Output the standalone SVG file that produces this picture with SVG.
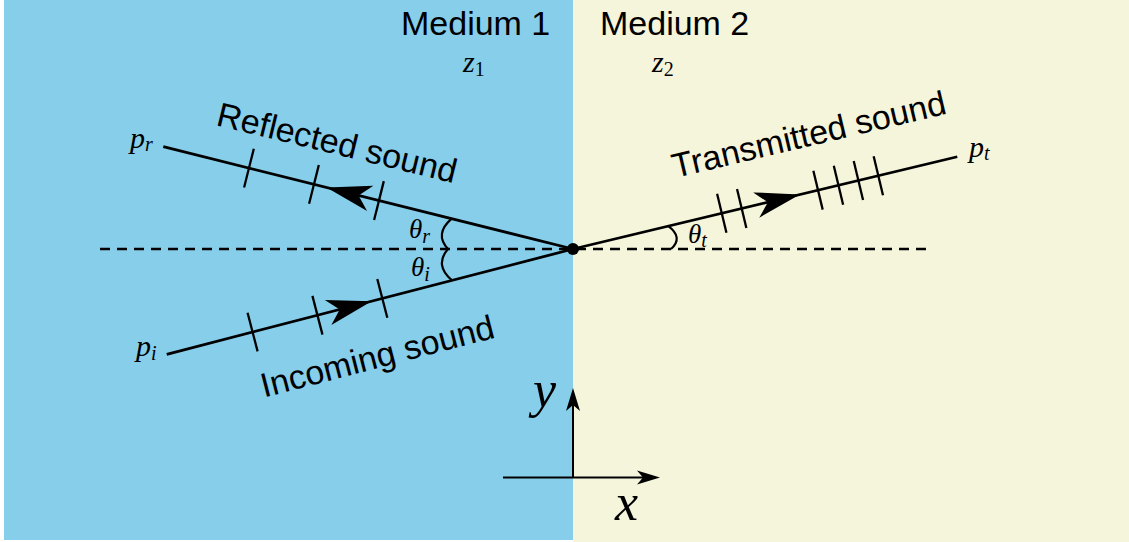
<svg xmlns="http://www.w3.org/2000/svg" xmlns:xlink="http://www.w3.org/1999/xlink" width="1129" height="542" viewBox="0 0 1129 542">
<style>
.sans{font-family:"Liberation Sans",Arial,sans-serif;font-size:34px;fill:#000}
.math{font-family:"Liberation Serif","Times New Roman",serif;font-style:italic;fill:#000}
.up{font-style:normal}
.ray{stroke:#000;stroke-width:2.8;fill:none}
.tick{stroke:#000;stroke-width:2.3;fill:none}
.dash{stroke:#000;stroke-width:2.4;stroke-dasharray:10 7;fill:none}
.arc{stroke:#000;stroke-width:2.2;fill:none}
.axis{stroke:#000;stroke-width:2;fill:none}
</style>
<defs>
<path id="head" d="M0,0 L-45,-13 L-33,0 L-45,13 Z" fill="#000"/>
<path id="axhead" d="M0,0 L-23,-7 L-17,0 L-23,7 Z" fill="#000"/>
</defs>

<g id="background">
<rect x="0" y="0" width="1129" height="542" fill="#ffffff"/>
<rect x="4" y="0" width="569" height="540" fill="#87CEEB"/>
<rect x="573" y="0" width="556" height="542" fill="#F5F5DC"/>
</g>

<g id="medium1">
<text class="sans" x="401" y="35" font-size="33.5">Medium 1</text>
<text class="math" x="463" y="71.5" font-size="30">z<tspan class="up" font-size="20" dy="4">1</tspan></text>
</g>
<g id="medium2">
<text class="sans" x="600" y="35" font-size="33.5">Medium 2</text>
<text class="math" x="652" y="71.5" font-size="30">z<tspan class="up" font-size="20" dy="4">2</tspan></text>
</g>

<g id="connectors">
<line class="dash" x1="100" y1="249" x2="931" y2="249"/>
<g id="reflected-ray" transform="translate(573,249) rotate(194.02)">
<line class="ray" x1="0" y1="0" x2="422.3" y2="0"/>
<line class="tick" x1="200" y1="-20" x2="200" y2="20"/>
<line class="tick" x1="267" y1="-20" x2="267" y2="20"/>
<line class="tick" x1="334" y1="-20" x2="334" y2="20"/>
<use xlink:href="#head" transform="translate(254,0)"/>
</g>
<g id="incoming-ray" transform="translate(573,249) rotate(165.47)">
<line class="ray" x1="0" y1="0" x2="419.7" y2="0"/>
<line class="tick" x1="197" y1="-20" x2="197" y2="20"/>
<line class="tick" x1="264" y1="-20" x2="264" y2="20"/>
<line class="tick" x1="331" y1="-20" x2="331" y2="20"/>
<use xlink:href="#head" transform="translate(208,0) rotate(180)"/>
</g>
<g id="transmitted-ray" transform="translate(573,249) rotate(-13.5)">
<line class="ray" x1="0" y1="0" x2="395.2" y2="0"/>
<line class="tick" x1="153" y1="-20" x2="153" y2="20"/>
<line class="tick" x1="173.5" y1="-20" x2="173.5" y2="20"/>
<line class="tick" x1="252" y1="-20" x2="252" y2="20"/>
<line class="tick" x1="273" y1="-20" x2="273" y2="20"/>
<line class="tick" x1="293.5" y1="-20" x2="293.5" y2="20"/>
<line class="tick" x1="314" y1="-20" x2="314" y2="20"/>
<use xlink:href="#head" transform="translate(233.4,0)"/>
</g>
<path class="arc" d="M448,249 Q434,234 451.7,218.7"/>
<path class="arc" d="M448,249 Q434,265 452,280.4"/>
<path class="arc" d="M671,249 Q683.7,237.5 668.3,226.1"/>
<line class="axis" x1="573" y1="478" x2="573" y2="394"/>
<use xlink:href="#axhead" transform="translate(573,388) rotate(-90)"/>
<line class="axis" x1="503" y1="477.5" x2="654" y2="477.5"/>
<use xlink:href="#axhead" transform="translate(660,477.5)"/>
</g>

<g id="origin">
<circle cx="573" cy="249" r="6" fill="#000"/>
</g>

<g id="labels">
<text class="sans" transform="translate(215,125) rotate(13.7)">Reflected sound</text>
<text class="sans" transform="translate(264,397.5) rotate(-14.5)">Incoming sound</text>
<text class="sans" transform="translate(675,178) rotate(-13.3)">Transmitted sound</text>

<text class="math" x="130" y="147.5" font-size="30">p<tspan font-size="20" dy="3.5">r</tspan></text>
<text class="math" x="136" y="355.5" font-size="30">p<tspan font-size="20" dy="4">i</tspan></text>
<text class="math" x="969" y="157" font-size="30">p<tspan font-size="20" dy="3">t</tspan></text>

<text class="math" x="409" y="238" font-size="27">θ<tspan font-size="20" dy="5">r</tspan></text>
<text class="math" x="411" y="276" font-size="27">θ<tspan font-size="20" dy="5">i</tspan></text>
<text class="math" x="688" y="243" font-size="27">θ<tspan font-size="20" dy="4">t</tspan></text>

<text class="math" x="533" y="407" font-size="52">y</text>
<text class="math" x="615" y="520" font-size="52">x</text>
</g>
</svg>
